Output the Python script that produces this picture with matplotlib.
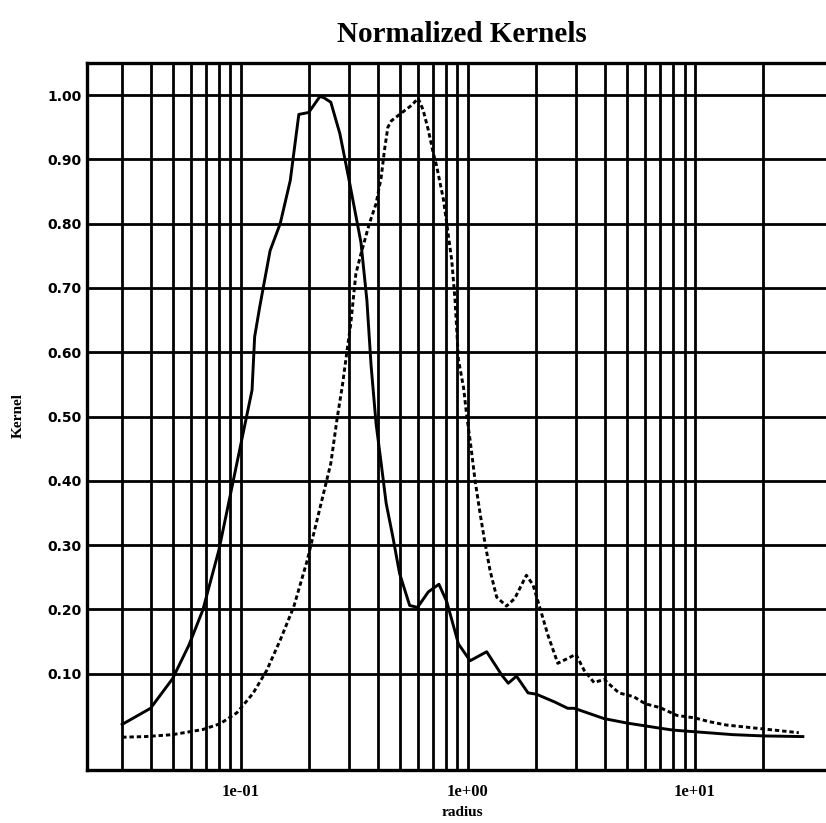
import numpy as np
import matplotlib.pyplot as plt
from matplotlib.ticker import FixedLocator, NullFormatter, FixedFormatter

# solid kernel (radius, value)
solid_r = [0.030, 0.040, 0.050, 0.059, 0.068, 0.080, 0.112, 0.115, 0.121, 0.128,
           0.1345, 0.149, 0.165, 0.180, 0.199, 0.223, 0.232, 0.249, 0.273, 0.300,
           0.338, 0.359, 0.3745, 0.394, 0.415, 0.4365, 0.467, 0.500, 0.554, 0.600,
           0.669, 0.7455, 0.807, 0.909, 1.023, 1.21, 1.408, 1.506, 1.637, 1.841,
           2.001, 2.406, 2.753, 2.942, 3.977, 5.03, 5.95, 7.03, 8.04, 10.0,
           14.7, 20.1, 29.9]
solid_k = [0.021, 0.046, 0.092, 0.144, 0.199, 0.292, 0.541, 0.624, 0.670, 0.717,
           0.758, 0.800, 0.867, 0.970, 0.973, 0.998, 0.996, 0.989, 0.940, 0.867,
           0.771, 0.681, 0.580, 0.489, 0.427, 0.365, 0.313, 0.256, 0.206, 0.203,
           0.227, 0.239, 0.212, 0.146, 0.120, 0.134, 0.098, 0.085, 0.096, 0.070,
           0.068, 0.056, 0.046, 0.046, 0.030, 0.023, 0.019, 0.015, 0.012, 0.0095,
           0.005, 0.003, 0.002]

# dotted kernel
dot_r = [0.030, 0.038, 0.050, 0.068, 0.081, 0.096, 0.113, 0.130, 0.149, 0.171,
         0.196, 0.249, 0.266, 0.280, 0.295, 0.305, 0.321, 0.338, 0.368, 0.394,
         0.415, 0.429, 0.444, 0.460, 0.492, 0.564, 0.604, 0.635, 0.669, 0.704,
         0.728, 0.780, 0.807, 0.849, 0.878, 0.909, 0.957, 0.990, 1.023, 1.076,
         1.132, 1.183, 1.251, 1.339, 1.480, 1.609, 1.810, 1.936, 2.069, 2.251,
         2.489, 2.992, 3.253, 3.596, 3.977, 4.626, 5.379, 6.05, 7.03, 8.32,
         10.0, 11.63, 13.75, 19.87, 28.7]
dot_k = [0.001, 0.002, 0.005, 0.013, 0.022, 0.039, 0.069, 0.105, 0.152, 0.204,
         0.276, 0.427, 0.499, 0.548, 0.608, 0.645, 0.722, 0.753, 0.800, 0.831,
         0.872, 0.914, 0.950, 0.960, 0.968, 0.984, 0.995, 0.977, 0.946, 0.910,
         0.890, 0.838, 0.800, 0.743, 0.681, 0.588, 0.545, 0.499, 0.463, 0.400,
         0.349, 0.308, 0.261, 0.219, 0.205, 0.217, 0.253, 0.238, 0.204, 0.160,
         0.116, 0.130, 0.105, 0.086, 0.091, 0.070, 0.064, 0.053, 0.047, 0.035,
         0.031, 0.025, 0.020, 0.014, 0.008]

y_ticks = [0.1, 0.2, 0.3, 0.4, 0.5, 0.6, 0.7, 0.8, 0.9, 1.0]
y_labels = ["0.10", "0.20", "0.30", "0.40", "0.50", "0.60", "0.70", "0.80", "0.90", "1.00"]
x_ticks = [0.1, 1.0, 10.0]
x_labels = ["1e-01", "1e+00", "1e+01"]
# vertical grid lines between the decades (the picture shows none at 30)
x_minor = [m * d for d in (0.01, 0.1, 1.0) for m in range(2, 10)] + [20.0]

fig = plt.figure(figsize=(8.26, 8.23), dpi=100)
ax = fig.add_axes([87/826, 53/823, 1 - 87/826, 707/823])

ax.set_xscale('log')
ax.plot(solid_r, solid_k, color='black', lw=2.1, solid_joinstyle='round')
ax.plot(dot_r, dot_k, color='black', lw=2.1, linestyle=(0, (1.5, 1.0)))

ax.set_xlim(0.021, 37.8)
ax.set_ylim(-0.05, 1.05)

ax.xaxis.set_major_locator(FixedLocator(x_ticks))
ax.xaxis.set_major_formatter(FixedFormatter(x_labels))
ax.xaxis.set_minor_locator(FixedLocator(x_minor))
ax.xaxis.set_minor_formatter(NullFormatter())
ax.yaxis.set_major_locator(FixedLocator(y_ticks))
ax.yaxis.set_major_formatter(FixedFormatter(y_labels))

ax.grid(True, which='both', axis='x', color='black', lw=2.0)
ax.grid(True, which='major', axis='y', color='black', lw=2.0)
ax.tick_params(which='both', length=0)
ax.tick_params(axis='x', pad=10)
ax.tick_params(axis='y', pad=4)

for lab in ax.get_xticklabels():
    lab.set_fontfamily('Liberation Serif')
    lab.set_fontweight('bold')
    lab.set_fontsize(12)
for lab in ax.get_yticklabels():
    lab.set_fontfamily('DejaVu Sans')
    lab.set_fontweight('bold')
    lab.set_fontsize(10)

for s in ['left', 'bottom', 'top']:
    ax.spines[s].set_linewidth(2.4)
ax.spines['right'].set_visible(False)

fig.text(462/826, 1 - 35/823, "Normalized Kernels", ha='center', va='center',
         fontfamily='Liberation Serif', fontweight='bold', fontsize=21)
fig.text(462/826, 1 - 812/823, "radius", ha='center', va='center',
         fontfamily='Liberation Serif', fontweight='bold', fontsize=11)
fig.text(18/826, 1 - 415/823, "Kernel", ha='center', va='center', rotation=90,
         fontfamily='Liberation Serif', fontweight='bold', fontsize=11)

fig.savefig('out.png', dpi=100)
